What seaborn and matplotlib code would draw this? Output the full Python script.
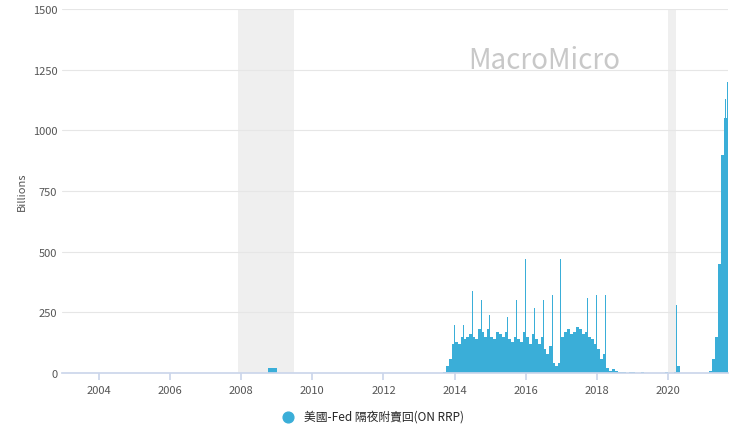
import numpy as np
import pandas as pd
import matplotlib
matplotlib.use("Agg")
import matplotlib.pyplot as plt
import seaborn as sns

# monthly typical values (billions) from 2013-09 to 2021-09
start_2008 = 2008.75
vals_2008 = [20, 22, 20]
start_main = 2013.67
monthly = [5, 30, 60, 120,
           130, 120, 150, 140, 150, 160, 150, 140, 180, 170, 150, 180,
           150, 140, 170, 160, 150, 170, 140, 130, 150, 140, 130, 170,
           150, 120, 160, 140, 120, 150, 100, 80, 110, 40, 30, 40,
           150, 170, 180, 160, 170, 190, 180, 160, 170, 150, 140, 120,
           100, 60, 80, 20, 10, 15, 10, 5, 5, 5, 0, 5,
           5, 0, 0, 5, 0, 0, 0, 0, 2, 0, 0, 5,
           0, 0, 5, 30, 0, 0, 0, 0, 0, 0, 0, 0,
           0, 2, 10, 60, 150, 450, 900, 1050, 1200]
spike_x = [2013.99, 2014.25, 2014.5, 2014.75, 2014.99, 2015.25, 2015.5, 2015.75,
           2015.99, 2016.25, 2016.5, 2016.75, 2016.99, 2017.25, 2017.5, 2017.75,
           2017.99, 2018.25, 2020.24, 2021.5, 2021.62, 2021.7]
spike_y = [200, 200, 340, 300, 240, 250, 230, 300, 470, 270, 300, 320, 470, 330,
           300, 310, 320, 320, 280, 990, 1130, 1250]
recessions = [(2007.92, 2009.48), (2020.0, 2020.22)]

sns.set_theme(style="white")
plt.rcParams['font.family'] = ['Noto Sans CJK TC', 'DejaVu Sans']
fig, ax = plt.subplots(figsize=(7.4, 4.31), dpi=100)
fig.subplots_adjust(left=0.084, right=0.984, top=0.977, bottom=0.132)
color = "#3aaed8"
for a, b in recessions:
    ax.axvspan(a, b, color="#efefef", zorder=0, lw=0)
x8 = start_2008 + np.arange(len(vals_2008)) / 12
ax.bar(x8, vals_2008, width=1/12, color=color, lw=0, align="edge")
xm = start_main + np.arange(len(monthly)) / 12
ax.bar(xm, monthly, width=1/12, color=color, lw=0, align="edge")
ax.bar(spike_x, spike_y, width=0.02, color=color, lw=0)

ax.set_xlim(2002.96, 2021.7)
ax.set_ylim(0, 1500)
ax.set_yticks([0, 250, 500, 750, 1000, 1250, 1500])
ax.set_xticks(range(2004, 2022, 2))
ax.yaxis.grid(True, color="#e6e6e6", lw=0.8)
for s in ["top", "right", "left"]:
    ax.spines[s].set_visible(False)
ax.spines["bottom"].set_color("#ccd6eb")
ax.tick_params(axis="both", labelsize=8, colors="#555555", length=0)
ax.tick_params(axis="x", length=5, color="#ccd6eb", direction="out", bottom=True)
ax.set_ylabel("Billions", fontsize=8, color="#555555")
ax.text(0.61, 0.86, "MacroMicro", transform=ax.transAxes, ha="left", va="center",
        fontsize=20, color="#c8c8c8", zorder=1)
ax.scatter([], [], s=60, color=color, label="美國-Fed 隔夜附賣回(ON RRP)")
fig.legend(loc="center", bbox_to_anchor=(0.5, 0.032), frameon=False,
           fontsize=8.5, handletextpad=0.3)
fig.savefig("out.png")
